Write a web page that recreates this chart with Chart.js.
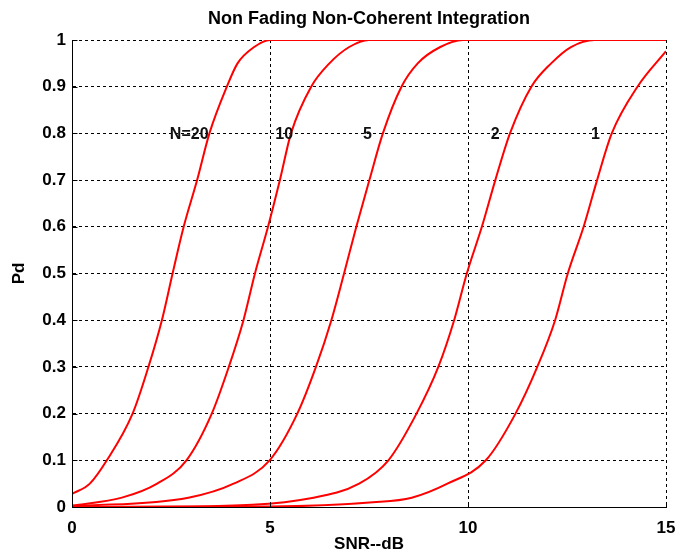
<!DOCTYPE html>
<html><head><meta charset="utf-8">
<script src="https://cdn.jsdelivr.net/npm/chart.js@4/dist/chart.umd.min.js"></script>
<style>html,body{margin:0;padding:0;background:#fff}#wrap{width:675px;height:553px}</style>
</head><body><div id="wrap"><canvas id="c" width="675" height="553"></canvas></div>
<script>
const curveNames = ["N=20", "10", "5", "2", "1"];
const n20X = [0, 0.45, 0.88, 1.53, 1.93, 2.27, 2.54, 2.82, 3.16, 3.47, 3.91, 4.18, 4.6, 5.0, 15];
const n20Y = [0.028, 0.05, 0.1, 0.2, 0.3, 0.4, 0.5, 0.6, 0.7, 0.8, 0.9, 0.95, 0.985, 1.0, 1.0];
const n10X = [0, 1.26, 2.15, 2.89, 3.53, 3.96, 4.33, 4.62, 4.95, 5.25, 5.53, 6.04, 6.5, 7.0, 7.5, 15];
const n10Y = [0.003, 0.02, 0.05, 0.1, 0.2, 0.3, 0.4, 0.5, 0.6, 0.7, 0.8, 0.9, 0.95, 0.985, 1.0, 1.0];
const n5X = [0, 2.94, 4.08, 4.99, 5.69, 6.16, 6.55, 6.87, 7.18, 7.51, 7.85, 8.32, 8.73, 9.3, 9.87, 15];
const n5Y = [0.001, 0.02, 0.05, 0.1, 0.2, 0.3, 0.4, 0.5, 0.6, 0.7, 0.8, 0.9, 0.95, 0.985, 1.0, 1.0];
const n2X = [0, 3, 6.1, 7.25, 7.99, 8.7, 9.25, 9.65, 9.97, 10.35, 10.69, 11.06, 11.6, 12.1, 12.6, 13.2, 15];
const n2Y = [0, 0.001, 0.02, 0.05, 0.1, 0.2, 0.3, 0.4, 0.5, 0.6, 0.7, 0.8, 0.9, 0.95, 0.985, 1.0, 1.0];
const n1X = [0, 5, 7.6, 8.58, 9.48, 10.45, 11.2, 11.75, 12.2, 12.52, 12.92, 13.26, 13.63, 14.28, 15];
const n1Y = [0, 0.001, 0.01, 0.02, 0.05, 0.1, 0.2, 0.3, 0.4, 0.5, 0.6, 0.7, 0.8, 0.9, 0.976];
const labelX = [2.96, 5.36, 7.46, 10.69, 13.22];
const labelY = [0.8, 0.8, 0.8, 0.8, 0.8];
const xTicks = [0, 5, 10, 15];
const yTicks = [0, 0.1, 0.2, 0.3, 0.4, 0.5, 0.6, 0.7, 0.8, 0.9, 1];

const allX = [n20X, n10X, n5X, n2X, n1X];
const allY = [n20Y, n10Y, n5Y, n2Y, n1Y];
const FONT = "'Liberation Sans', Arial, sans-serif";

const datasets = allX.map((xs, i) => ({
  label: curveNames[i],
  data: xs.map((x, j) => ({x: x, y: allY[i][j]})),
  borderColor: '#ff0000',
  borderWidth: 2,
  pointRadius: 0,
  fill: false,
  cubicInterpolationMode: 'monotone'
}));

const framePlugin = {
  id: 'frame',
  afterDatasetsDraw(chart) {
    const ctx = chart.ctx, xs = chart.scales.x, ys = chart.scales.y, a = chart.chartArea;
    ctx.save();
    ctx.strokeStyle = '#000';
    ctx.lineWidth = 1;
    ctx.setLineDash([]);
    ctx.beginPath();
    const L = Math.round(a.left) + 0.5, B = Math.round(a.bottom) + 0.5;
    ctx.moveTo(L, Math.round(a.top));
    ctx.lineTo(L, B);
    ctx.lineTo(Math.round(a.right) + 1, B);
    yTicks.forEach(v => { const y = Math.round(ys.getPixelForValue(v)) + 0.5; ctx.moveTo(L, y); ctx.lineTo(L + 5, y); });
    xTicks.forEach(v => { const x = Math.round(xs.getPixelForValue(v)) + 0.5; ctx.moveTo(x, B); ctx.lineTo(x, B - 5); });
    ctx.stroke();
    ctx.font = "bold 16px " + FONT;
    ctx.fillStyle = '#111';
    ctx.textAlign = 'center';
    ctx.textBaseline = 'middle';
    curveNames.forEach((t, i) => {
      ctx.fillText(t, xs.getPixelForValue(labelX[i]), ys.getPixelForValue(labelY[i]) + 1);
    });
    ctx.restore();
  }
};

new Chart(document.getElementById('c'), {
  type: 'line',
  data: { datasets },
  options: {
    responsive: false,
    animation: false,
    layout: { padding: { left: 0, right: 9, top: 0, bottom: 0 } },
    plugins: {
      legend: { display: false },
      tooltip: { enabled: false },
      title: {
        display: true,
        fullSize: false,
        text: 'Non Fading Non-Coherent Integration',
        color: '#000',
        font: { family: FONT, size: 18, weight: 'bold', lineHeight: 1 },
        padding: { top: 10, bottom: 12 }
      }
    },
    scales: {
      x: {
        type: 'linear', min: 0, max: 15,
        afterBuildTicks: s => { s.ticks = xTicks.map(v => ({value: v})); },
        afterFit: s => { s.height = 46; s.paddingLeft = 0; s.paddingRight = 0; },
        ticks: { color: '#000', font: { family: FONT, size: 17, weight: 'bold' }, padding: 11,
          maxRotation: 0 },
        grid: { color: '#000', lineWidth: 1, drawTicks: false },
        border: { display: true, color: '#000', width: 1, dash: [3, 3] },
        title: { display: true, text: 'SNR--dB', color: '#000',
          font: { family: FONT, size: 17, weight: 'bold', lineHeight: 1 }, padding: 0 }
      },
      y: {
        type: 'linear', min: 0, max: 1,
        afterBuildTicks: s => { s.ticks = yTicks.map(v => ({value: v})); },
        afterFit: s => { s.width = 72; s.paddingTop = 0; s.paddingBottom = 0; },
        ticks: { color: '#000', font: { family: FONT, size: 17, weight: 'bold' }, padding: 6,
          callback: v => (v === 0 || v === 1) ? String(v) : v.toFixed(1) },
        grid: { color: '#000', lineWidth: 1, drawTicks: false },
        border: { display: true, color: '#000', width: 1, dash: [3, 3] },
        title: { display: true, text: 'Pd', color: '#000',
          font: { family: FONT, size: 17, weight: 'bold', lineHeight: 2.24 }, padding: 0 }
      }
    }
  },
  plugins: [framePlugin]
});
</script></body></html>
